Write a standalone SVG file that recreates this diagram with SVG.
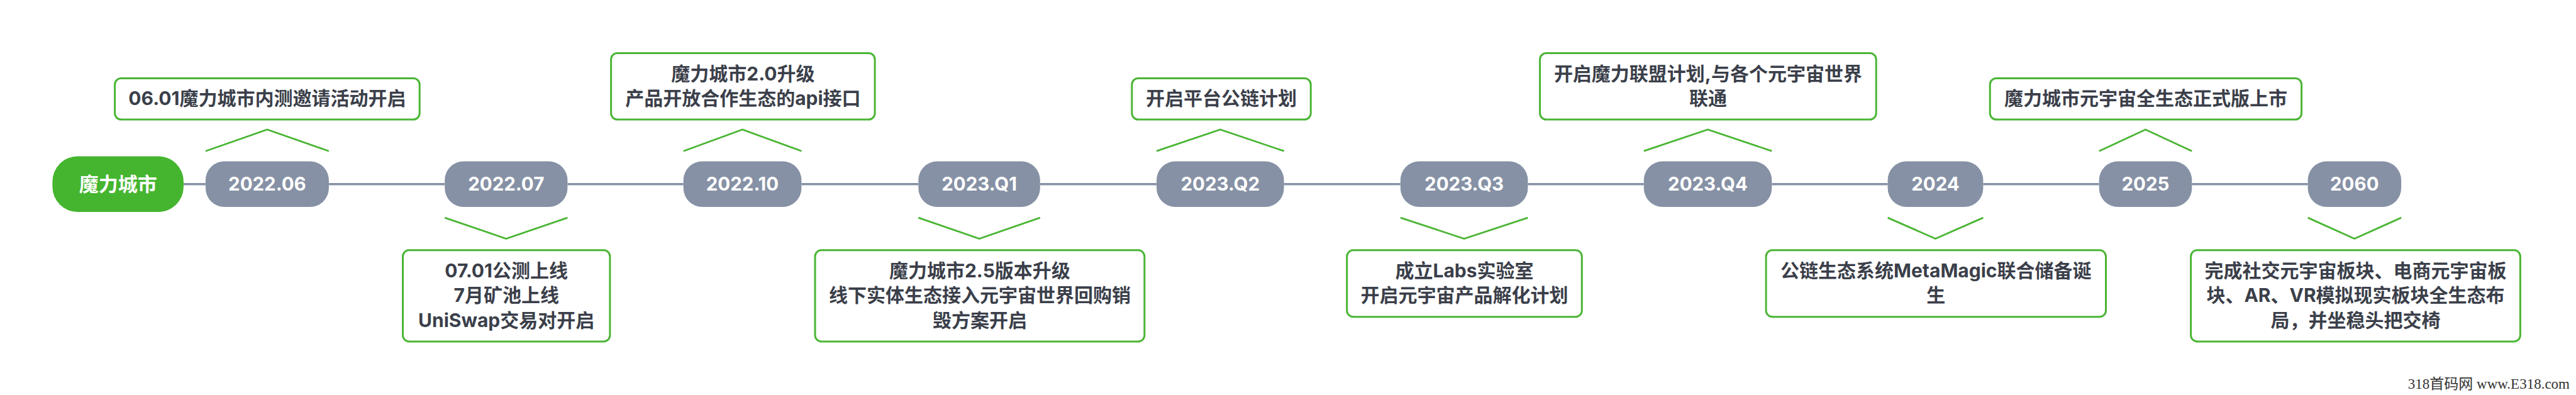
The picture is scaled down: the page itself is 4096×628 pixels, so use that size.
<svg xmlns="http://www.w3.org/2000/svg" width="4096" height="628" viewBox="0 0 4096 628">
<style>
.tl{stroke:#8692a6;stroke-width:3.3;fill:none}
.chev{fill:none;stroke:#4ab534;stroke-width:2.8}
.box{fill:#fff;stroke:#4ab534;stroke-width:3}
.date{fill:#8691a5}
.root{fill:#45b52f}
.t{font-family:Inter,"Noto Sans CJK SC",sans-serif;font-weight:700;font-size:30px;fill:#3b3f4a;text-anchor:middle}
.dt{font-family:Inter,"Noto Sans CJK SC",sans-serif;font-weight:700;font-size:29.5px;fill:#fff;text-anchor:middle}
.wm{font-family:"Liberation Serif","Noto Sans CJK SC",serif;font-size:23px;fill:#333;text-anchor:end}
</style>
<rect width="4096" height="628" fill="#fff"/>
<g id="connectors">
<line class="tl" x1="291.9" y1="292.75" x2="326.9" y2="292.75"/>
<line class="tl" x1="522.9" y1="292.75" x2="707.2" y2="292.75"/>
<line class="tl" x1="902.4" y1="292.75" x2="1086.7" y2="292.75"/>
<line class="tl" x1="1274.4" y1="292.75" x2="1460.3" y2="292.75"/>
<line class="tl" x1="1653.8" y1="292.75" x2="1839" y2="292.75"/>
<line class="tl" x1="2041.6" y1="292.75" x2="2226.8" y2="292.75"/>
<line class="tl" x1="2429.4" y1="292.75" x2="2613.8" y2="292.75"/>
<line class="tl" x1="2817.3" y1="292.75" x2="3001.6" y2="292.75"/>
<line class="tl" x1="3153.4" y1="292.75" x2="3337.7" y2="292.75"/>
<line class="tl" x1="3485.3" y1="292.75" x2="3669.6" y2="292.75"/>
<polyline class="chev" points="326.9,240.2 424.9,206 522.9,240.2"/>
<polyline class="chev" points="707.2,346.1 804.8,379.5 902.4,346.1"/>
<polyline class="chev" points="1086.7,240.2 1180.5,206 1274.4,240.2"/>
<polyline class="chev" points="1460.3,346.1 1557.1,379.5 1653.8,346.1"/>
<polyline class="chev" points="1839,240.2 1940.3,206 2041.6,240.2"/>
<polyline class="chev" points="2226.8,346.1 2328.1,379.5 2429.4,346.1"/>
<polyline class="chev" points="2613.8,240.2 2715.5,206 2817.3,240.2"/>
<polyline class="chev" points="3001.6,346.1 3077.5,379.5 3153.4,346.1"/>
<polyline class="chev" points="3337.7,240.2 3411.5,206 3485.3,240.2"/>
<polyline class="chev" points="3669.6,346.1 3743.8,379.5 3818.1,346.1"/>
</g>
<g id="root">
<rect class="root" x="83.4" y="248.5" width="208.5" height="88.5" rx="40"/>
<text class="dt" x="187.7" y="304" style="font-size:31px">魔力城市</text>
</g>
<g id="d2022-06"><rect class="date" x="326.9" y="256.5" width="196" height="72.5" rx="30"/><text class="dt" x="424.9" y="303">2022.06</text></g>
<g id="d2022-07"><rect class="date" x="707.2" y="256.5" width="195.2" height="72.5" rx="30"/><text class="dt" x="804.8" y="303">2022.07</text></g>
<g id="d2022-10"><rect class="date" x="1086.7" y="256.5" width="187.7" height="72.5" rx="30"/><text class="dt" x="1180.5" y="303">2022.10</text></g>
<g id="d2023-q1"><rect class="date" x="1460.3" y="256.5" width="193.5" height="72.5" rx="30"/><text class="dt" x="1557.1" y="303">2023.Q1</text></g>
<g id="d2023-q2"><rect class="date" x="1839" y="256.5" width="202.6" height="72.5" rx="30"/><text class="dt" x="1940.3" y="303">2023.Q2</text></g>
<g id="d2023-q3"><rect class="date" x="2226.8" y="256.5" width="202.6" height="72.5" rx="30"/><text class="dt" x="2328.1" y="303">2023.Q3</text></g>
<g id="d2023-q4"><rect class="date" x="2613.8" y="256.5" width="203.5" height="72.5" rx="30"/><text class="dt" x="2715.5" y="303">2023.Q4</text></g>
<g id="d2024"><rect class="date" x="3001.6" y="256.5" width="151.8" height="72.5" rx="30"/><text class="dt" x="3077.5" y="303">2024</text></g>
<g id="d2025"><rect class="date" x="3337.7" y="256.5" width="147.6" height="72.5" rx="30"/><text class="dt" x="3411.5" y="303">2025</text></g>
<g id="d2060"><rect class="date" x="3669.6" y="256.5" width="148.5" height="72.5" rx="30"/><text class="dt" x="3743.8" y="303">2060</text></g>
<g id="e2022-06"><rect class="box" x="182.6" y="124.5" width="484.6" height="65.5" rx="10"/><text class="t" x="424.9" y="167.3">06.01魔力城市内测邀请活动开启</text></g>
<g id="e2022-10"><rect class="box" x="971.6" y="84.5" width="419.5" height="105.5" rx="10"/><text class="t" x="1181.4" y="127.8">魔力城市2.0升级</text><text class="t" x="1181.4" y="167">产品开放合作生态的api接口</text></g>
<g id="e2023-q2"><rect class="box" x="1799.8" y="124.5" width="284.4" height="65.5" rx="10"/><text class="t" x="1942" y="167.3">开启平台公链计划</text></g>
<g id="e2023-q4"><rect class="box" x="2448.6" y="84.5" width="534.6" height="105.5" rx="10"/><text class="t" x="2715.9" y="127.8">开启魔力联盟计划,与各个元宇宙世界</text><text class="t" x="2715.9" y="167">联通</text></g>
<g id="e2025"><rect class="box" x="3164.2" y="124.5" width="495.4" height="65.5" rx="10"/><text class="t" x="3411.9" y="167.3">魔力城市元宇宙全生态正式版上市</text></g>
<g id="e2022-07"><rect class="box" x="640.5" y="397.8" width="329.4" height="145.1" rx="10"/><text class="t" x="805.2" y="441.2">07.01公测上线</text><text class="t" x="805.2" y="480.4">7月矿池上线</text><text class="t" x="805.2" y="519.6">UniSwap交易对开启</text></g>
<g id="e2023-q1"><rect class="box" x="1296" y="397.8" width="523.8" height="145.1" rx="10"/><text class="t" x="1557.9" y="441.2">魔力城市2.5版本升级</text><text class="t" x="1557.9" y="480.4">线下实体生态接入元宇宙世界回购销</text><text class="t" x="1557.9" y="519.6">毁方案开启</text></g>
<g id="e2023-q3"><rect class="box" x="2141.7" y="397.8" width="373.6" height="105.9" rx="10"/><text class="t" x="2328.5" y="441.2">成立Labs实验室</text><text class="t" x="2328.5" y="480.4">开启元宇宙产品解化计划</text></g>
<g id="e2024"><rect class="box" x="2808.1" y="397.8" width="540.4" height="105.9" rx="10"/><text class="t" x="3078.3" y="441.2">公链生态系统MetaMagic联合储备诞</text><text class="t" x="3078.3" y="480.4">生</text></g>
<g id="e2060"><rect class="box" x="3483.6" y="397.8" width="523.8" height="145.1" rx="10"/><text class="t" x="3745.5" y="441.2">完成社交元宇宙板块、电商元宇宙板</text><text class="t" x="3745.5" y="480.4">块、AR、VR模拟现实板块全生态布</text><text class="t" x="3745.5" y="519.6">局，并坐稳头把交椅</text></g>
<text class="wm" x="4086" y="618">318首码网 www.E318.com</text>
</svg>
